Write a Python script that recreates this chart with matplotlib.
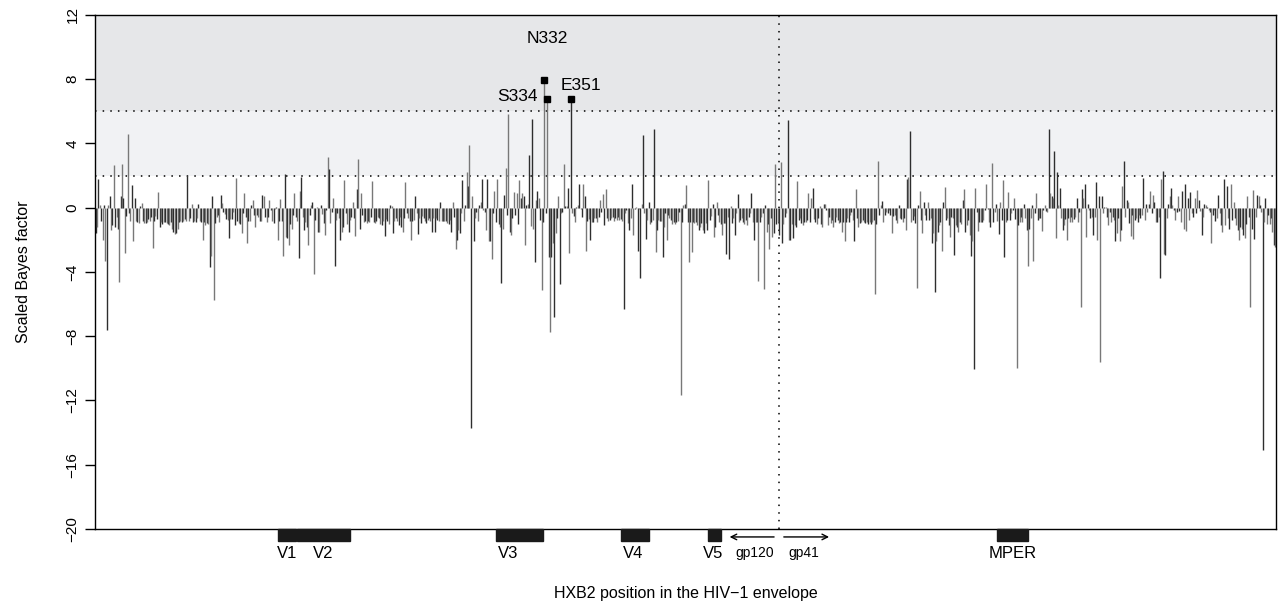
import matplotlib
matplotlib.use('Agg')
import matplotlib.pyplot as plt
from matplotlib.patches import Rectangle

plt.rcParams['font.family'] = ['Liberation Sans', 'DejaVu Sans']

# scaled Bayes factor per alignment site left to right
seg1 = [-1.6, -1.2, 1.8, 0.15, -0.8, -2.0, 0.2, -3.3, -7.6, 0.2, 0.7, -1.4, -1.1, 2.65, -1.2, -0.6, -1.3, -4.6, 0.7, 2.75,
        0.6, -2.8, -0.5, 4.6, -0.3, -0.8, 1.4, -2.05, 0.6, -0.8, -0.9, -0.95, 0.1, 0.3, -0.8, -0.95, -0.95, -0.9, -0.7, -0.8,
        -0.6, -2.5, -0.8, -0.5, -0.7, 1.0, -1.2, -0.9, -1.0, -0.9, -0.9, -0.95, -1.0, -1.1, -0.9, -1.3, -1.5, -1.65, -1.6, -1.3,
        -0.9, -0.8, -0.9, -0.8, -0.7, -0.85, 2.0, -0.8]
seg2 = [-0.65, 0.25, -0.9, -0.85, -0.9, -0.65, 0.25, -0.8, -0.9, -2.0, -0.9, -1.1, -0.95, -1.0, -3.7, -3.0, 0.7, -5.75, -0.95,
        -0.55, -0.45, -0.9, 0.8, 0.3, -0.25, -0.4, -0.7, -0.75, -1.9, -0.7, -0.7, -0.25, -1.1, 1.85, -0.85, -0.95, -1.0, -1.55, -0.35,
        0.9, -0.55, -2.2, -0.85, -0.8, 0.15, 0.5, -0.45, -1.2, -0.45, -0.55, -0.85, -0.85, 0.8, 0.7, -0.55, -0.9, -0.55, 0.5, -0.15,
        -0.85, -0.95, -0.05, 0.02, -2.0, -0.85, 0.55, -0.85, -3.0, 2.1, -1.8, -1.9, -2.3]
seg3 = [-1.0, -1.3, -0.45, 0.9, -0.55, -0.8, -3.15, 1.05, 1.9, -0.55, -1.4, -0.9, -1.2, -2.3, -0.45, 0.15, 0.35, -4.1, -0.75, 0.05,
        -1.5, -1.5, 0.15, -0.4, -0.95, -1.7, -0.15, 3.15, 2.4, -0.95, -0.25, 0.6, -3.6, -0.75, -0.35, -0.65, -2.0, -1.5, -1.2, 1.7,
        -0.35, -1.0, -1.5, -0.75, -0.55, 0.35, -0.65, -1.75, 1.15, 3.05, -1.3, 0.9, -0.45, -0.9, -0.85, -0.95, -0.8, -0.9, -0.55, 1.65,
        -0.9, -0.95, -0.85, -0.55, -0.65, -1.0, -1.1, -0.8, -1.75, -0.7, -0.8, -1.0]
seg4 = [0.15, 0.12, -1.6, -0.8, -0.65, -0.85, -1.1, -0.55, -1.2, -1.5, -0.65, 1.6, -0.35, -0.65, -0.85, -2.0, -0.85, -0.75, 0.75, -0.35,
        -1.65, -0.65, -0.95, -0.5, -0.65, -0.85, -0.95, -0.75, -0.65, -0.85, -1.5, -0.65, -1.5, -0.65, -0.75, -0.85, 0.35, -0.85, -0.85, -0.85,
        -0.8, -0.95, -1.0, -0.75, -1.5, 0.35, -0.55, -2.55, -2.0, -1.4, -1.6, -0.35, 1.7, -0.85, 0.15, 2.2, 1.35, 3.9, -13.7, 0.7,
        -2.1, -0.65, -0.25, -0.85, 0.15, 0.35, 1.8, -0.15, -0.25, -1.4, 1.8, -2.1]
seg5 = [-2.1, -3.2, -0.35, 1.05, -0.9, 1.8, -1.0, -1.2, -4.7, -1.3, 0.8, 2.45, -0.45, 5.85, -1.5, -1.7, -0.65, 1.0, -0.45, 0.9,
        -1.0, 1.75, 0.6, 0.9, 0.75, -2.3, 0.2, 0.25, 3.3, -1.15, 5.55, -1.35, -3.35, 0.5, 1.05, 0.6, -0.75, -5.1, -0.9, 7.95,
        -0.35, 6.8, -3.05, -7.75, -3.05, -2.2, -6.8, -1.6, -0.65, 0.7, -4.75, -0.35, -0.25, 2.7, 0.1, 0.1, 1.25, -2.8, 6.8, -0.35,
        -0.5, -0.9, 0.05, 0.2, 1.5, -0.1, -0.6, 1.45, 0.7, -2.7, -0.8, -0.7]
seg6 = [-2.0, -0.9, -0.9, -0.65, -0.65, -0.9, -0.55, 0.5, -0.25, 0.85, -1.1, 1.15, -0.65, -0.85, -0.75, -0.65, -0.55, -0.85, -0.65, -0.75,
        -0.55, -0.75, -0.7, -0.85, -6.3, -0.35, -0.15, -0.95, -1.4, -0.65, 1.45, -1.7, -0.05, 0.02, -2.7, -0.05, -4.4, 0.25, 4.5, -0.35,
        -1.95, -0.75, 0.35, -1.0, -0.9, -0.75, 4.9, -2.75, -1.4, -0.75, -0.85, -0.85, -3.05, -1.2, -0.35, -2.0, -0.45, -0.65, -0.75, -1.0,
        -0.9, -1.0, -0.9, -0.8, -0.25, -11.65, -0.9, 0.15, 0.25, 1.4, -0.9, -3.35]
seg7 = [-0.9, -2.75, -0.9, -0.95, -0.9, -1.1, -1.4, -1.2, -0.95, -1.4, -1.6, -0.95, -1.4, 1.75, -0.75, -0.5, 0.25, -1.8, -1.2, 0.35,
        -0.45, -0.9, -1.0, -1.7, -0.95, -0.95, -2.9, -0.55, -3.2, 0.1, -0.95, -0.65, -1.7, -0.35, 0.85, -0.9, -0.75, -0.65, -0.9,
        -1.0, -0.75, -1.1, -0.55, -0.35, 0.9, -0.9, -2.0, -0.9, -0.9, -4.55, -0.9, -0.55, -0.3, -5.05, 0.2, -1.5, -1.0, -2.6,
        -0.65, -1.8, -1.6, 2.75, -1.0, -0.9, -1.7, 2.85, -2.2, -1.0, -0.6, -0.35, 5.45, -2.0]
seg8 = [-2.0, -1.0, -1.9, -1.1, -1.2, 1.65, -0.75, -0.65, -0.95, -1.1, -0.9, -0.9, -0.75, 0.9, -0.9, 0.6, 1.2, -0.7, -0.9, -1.0,
        -0.65, 0.1, -1.0, -1.2, 0.25, 0.25, -0.15, -1.1, -0.55, -0.95, -0.75, -1.2, -0.9, -0.55, -0.75, -0.95, -0.9, -1.5, -0.9,
        -2.05, -0.9, -0.65, -0.9, -0.45, -0.25, -0.75, -2.1, 1.15, -0.65, -1.2, -0.95, -0.9, -0.75, -0.9, -0.95, -0.9, -1.0, -0.9, -1.0,
        -0.9, -0.75, -5.35, -1.0, 2.9, -0.45, 0.2, 0.4, -0.9, -0.45, -0.25, -0.35, -0.15]
seg9 = [-0.45, -1.6, -0.5, -0.45, -0.75, -0.95, 0.2, -0.65, -0.7, -0.9, -0.65, -1.4, 1.8, 1.9, 4.75, -0.9, -0.75, -0.5, -0.95, -5.0,
        0.2, 1.05, -0.75, -1.55, 0.35, -0.45, -0.75, 0.35, -0.75, -0.65, -2.2, -1.55, -5.25, -2.1, -1.5, -1.1, -0.9, -2.7, 0.35, 1.3,
        -0.75, -0.65, -1.1, -1.85, -0.55, -0.65, -2.95, -1.1, -1.2, -1.5, -0.9, -1.0, 0.5, 1.15, -1.5, -1.1, -0.75, -1.7, -3.0,
        -2.1, -10.05, 1.25, -0.25, -1.45, -0.9, -0.9, -0.9, -0.75, -0.15, 1.45, -0.05, -0.9]
seg10 = [-1.2, 2.8, -0.9, -0.25, 0.25, -0.85, -1.65, 0.35, -0.75, 1.7, -3.05, -0.9, -0.75, 0.95, -0.75, -0.35, -0.15, 0.6, -0.7, -10.0,
         -1.1, -0.9, -0.55, -0.9, 0.25, -0.65, -1.4, -3.65, -1.3, -0.65, 0.15, -3.3, -0.35, 0.9, -0.75, -0.65, -0.65, -1.45, -0.15, 0.15,
         -0.2, -0.25, 4.9, 0.9, 0.75, 0.6, 3.55, -1.9, 2.2, 0.15, 1.25, -0.65, -1.4, -1.1, -0.7, -2.0, -0.65, -0.9, -0.55, -0.9,
         -0.7, -0.55, 0.6, -0.9, -0.25, -6.15, 1.15, 0.6, 1.5, -1.8, 0.25, -0.15]
seg11 = [-0.65, -0.55, -1.7, -0.55, 1.6, -2.0, 0.75, -9.6, 0.7, -0.3, 0.05, 0.02, -0.6, -1.05, -0.25, -0.9, -0.55, -0.75, -2.1, -1.6,
         -0.65, -2.05, -1.4, 1.35, 2.9, -0.55, 0.5, 0.35, -0.95, -1.75, -0.45, -1.95, -0.75, -0.65, -0.9, -0.45, -0.65, -0.45, 1.85, -0.75,
         0.25, -0.25, 0.25, 1.05, -0.35, 0.8, 0.35, -0.9, -0.9, -0.55, -4.35, 1.8, 2.3, -2.85, -2.95, -0.65, 0.25, 0.7, 1.25, 0.15,
         -0.15, -0.75, -0.25, 0.7, -0.2, -0.9, 1.05, -1.3, 1.45, -1.45, 0.6, -0.75]
seg12 = [1.0, -0.35, -0.55, 0.6, -0.35, 1.1, 0.5, -0.2, -1.7, -0.55, 0.25, 0.2, 0.05, -0.15, -0.25, -2.2, -0.45, -0.15, -0.8,
         -0.65, 0.8, -0.35, -1.1, -1.5, 1.8, -1.1, 1.35, -0.65, -1.3, 1.45, -0.75, 0.35, -0.65, -1.1, -1.4, -2.0, -1.2, -1.3, -1.7,
         -1.9, -1.0, 0.7, -0.55, -6.2, -1.3, 1.1, -1.95, -0.55, 0.8, 0.7, 0.15, -0.25, -15.1, -0.9, 0.6, -1.0, -0.45, -1.0,
         -0.65, -1.5, -2.3, -2.45]

bf = seg1 + seg2 + seg3 + seg4 + seg5 + seg6 + seg7 + seg8 + seg9 + seg10 + seg11 + seg12
n = len(bf)
pos = list(range(1, n + 1))

# labelled sites (those above the top threshold), in alignment order
site_names = ['N332', 'S334', 'E351']

# envelope regions in alignment coordinates
regions = ['V1', 'V2', 'V3', 'V4', 'V5', 'MPER']
reg_start = [132, 146, 289, 379, 442, 650]
reg_end = [145, 184, 323, 399, 451, 672]
reg_label_x = [138.7, 164.6, 297.7, 387.7, 445.3, 661.2]
gp_boundary = 492.8
gp120_end = 455.3
gp41_end = 530.9

fig = plt.figure(figsize=(12.8, 6.09), dpi=100)
ax = fig.add_axes([0.0742, 0.1314, 0.9226, 0.8440])

ax.axhspan(6, 12, color='#e6e7e9', zorder=0, lw=0)
ax.axhspan(2, 6, color='#f1f2f4', zorder=0, lw=0)
ax.axhline(2, color='black', ls=(0, (1, 4)), lw=1.1, zorder=1)
ax.axhline(6, color='black', ls=(0, (1, 4)), lw=1.1, zorder=1)
ax.axvline(gp_boundary, color='black', ls=(0, (1, 4)), lw=1.1, zorder=1)

cols = ['#2e2e2e' if i % 2 == 0 else '#787878' for i in range(n)]
ax.vlines(pos, 0, bf, colors=cols, lw=1.0, zorder=2)

# mark the sites above the strong-evidence line
top = [i for i in range(n) if bf[i] > 6]
offsets = {'N332': ((2, 27), 'center'), 'S334': ((-6.5, -1.5), 'right'), 'E351': ((-7, 6), 'left')}
for name, i in zip(site_names, top):
    ax.plot(pos[i], bf[i], marker='s', ms=5, color='black', zorder=3)
    off, ha = offsets[name]
    ax.annotate(name, (pos[i], bf[i]), xytext=off, textcoords='offset points',
                ha=ha, va='baseline', fontsize=12.5)

ax.set_xlim(0.5, n + 0.5)
ax.set_ylim(-20, 12)
ax.set_yticks(range(-20, 13, 4))
ax.set_yticklabels([str(v).replace('-', '\u2212') for v in range(-20, 13, 4)], rotation=90, va='center')
ax.tick_params(axis='y', direction='out', length=7, width=1, labelsize=11, pad=4)
ax.set_xticks([])
for s in ax.spines.values():
    s.set_linewidth(1.0)

ax.set_ylabel('Scaled Bayes factor', fontsize=11.5, labelpad=25)
ax.set_xlabel('HXB2 position in the HIV\u22121 envelope', fontsize=11.5, labelpad=41)

# region bars under the axis
tr = ax.get_xaxis_transform()
for name, a, b, lx in zip(regions, reg_start, reg_end, reg_label_x):
    ax.add_patch(Rectangle((a, -0.023), b - a, 0.023, transform=tr, color='#1a1a1a', clip_on=False, zorder=4))
    ax.text(lx, -0.047, name, transform=tr, ha='center', va='center', fontsize=12)

ax.annotate('', xy=(gp120_end, -0.0155), xytext=(gp_boundary - 1.5, -0.0155), xycoords=tr, textcoords=tr,
            arrowprops=dict(arrowstyle='->', lw=1.0, color='black'), annotation_clip=False)
ax.annotate('', xy=(gp41_end, -0.0155), xytext=(gp_boundary + 1.5, -0.0155), xycoords=tr, textcoords=tr,
            arrowprops=dict(arrowstyle='->', lw=1.0, color='black'), annotation_clip=False)
ax.text((gp120_end + gp_boundary) / 2 + 1, -0.047, 'gp120', transform=tr, ha='center', va='center', fontsize=10)
ax.text((gp41_end + gp_boundary) / 2 - 1, -0.047, 'gp41', transform=tr, ha='center', va='center', fontsize=10)

fig.savefig('out.png', dpi=100)
